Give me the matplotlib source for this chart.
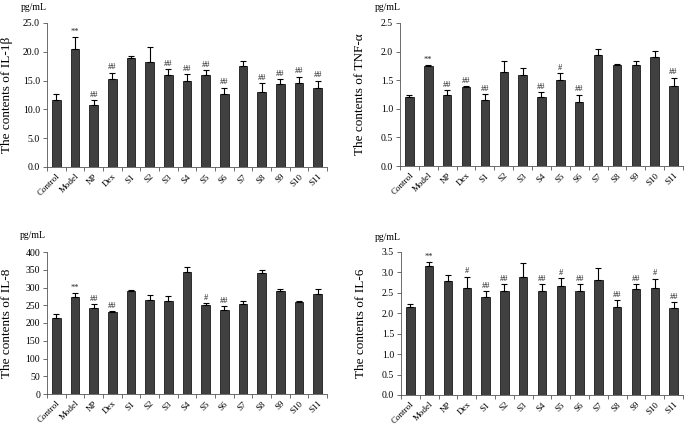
import matplotlib
matplotlib.use("Agg")
import matplotlib.pyplot as plt
import numpy as np

plt.rcParams['font.family'] = ['Liberation Serif', 'DejaVu Serif']

groups = ['Control', 'Model', 'NP', 'Dex', 'S1', 'S2', 'S3', 'S4', 'S5',
          'S6', 'S7', 'S8', 'S9', 'S10', 'S11']

il1b = [11.7, 20.4, 10.7, 15.3, 18.9, 18.2, 15.9, 14.9, 16.0, 12.7, 17.5, 13.1, 14.4, 14.5, 13.7]
il1b_err = [0.9, 2.1, 0.9, 1.1, 0.4, 2.6, 1.1, 1.3, 0.9, 1.1, 0.9, 1.5, 0.9, 1.2, 1.3]
il1b_sig = ['', '**', '##', '##', '', '', '##', '##', '##', '##', '', '##', '##', '##', '##']

tnf = [1.21, 1.75, 1.235, 1.376, 1.15, 1.645, 1.59, 1.21, 1.505, 1.12, 1.94, 1.77, 1.77, 1.90, 1.405]
tnf_err = [0.03, 0.02, 0.09, 0.025, 0.11, 0.19, 0.12, 0.08, 0.12, 0.13, 0.11, 0.01, 0.07, 0.11, 0.14]
tnf_sig = ['', '**', '##', '##', '##', '', '', '##', '#', '##', '', '', '', '', '##']

il8 = [215, 272, 241, 230, 290, 266, 262, 343, 251, 236, 253, 342, 289, 260, 281]
il8_err = [9, 13, 12, 4, 3, 13, 15, 14, 4, 11, 8, 8, 8, 1, 14]
il8_sig = ['', '**', '##', '##', '', '', '', '', '#', '##', '', '', '', '', '']

il6 = [2.15, 3.165, 2.78, 2.63, 2.39, 2.545, 2.90, 2.55, 2.67, 2.55, 2.81, 2.16, 2.59, 2.63, 2.13]
il6_err = [0.07, 0.10, 0.16, 0.27, 0.15, 0.18, 0.34, 0.16, 0.19, 0.16, 0.30, 0.16, 0.13, 0.22, 0.14]
il6_sig = ['', '**', '', '#', '##', '##', '', '##', '#', '##', '', '##', '##', '#', '##']

W, H = 685, 426
fig = plt.figure(figsize=(W / 100, H / 100), dpi=100)


def panel(rect, vals, errs, sigs, ymax, ystep, fmt, ylabel, unit_xy):
    l, t, r, b = rect
    ax = fig.add_axes([l / W, 1 - b / H, (r - l) / W, (b - t) / H])
    x = np.arange(len(groups))
    ax.bar(x, vals, width=0.45, color='#404040', edgecolor='#1a1a1a', linewidth=0.6, zorder=2)
    ax.errorbar(x, vals, yerr=[np.zeros(len(vals)), errs], fmt='none', ecolor='black',
                elinewidth=0.8, capsize=2, capthick=0.8, zorder=3)
    off = ymax * 0.008
    for xi, v, e, s in zip(x, vals, errs, sigs):
        if s:
            ax.text(xi, v + e + off, s, ha='center', va='bottom', fontsize=6, color='#222222')
    ax.set_xlim(-0.5, len(groups) - 0.5)
    ax.set_ylim(0, ymax)
    yt = np.arange(0, ymax + ystep / 2, ystep)
    ax.set_yticks(yt)
    ax.set_yticklabels([fmt.format(v) for v in yt], fontsize=7)
    ax.set_xticks(x)
    ax.set_xticklabels(groups, rotation=45, ha='right', rotation_mode='anchor', fontsize=6.5)
    ax.set_xticks(np.arange(-0.5, len(groups)), minor=True)
    ax.tick_params(axis='x', which='major', length=0, pad=4)
    ax.tick_params(axis='x', which='minor', length=3, width=0.6, color='#555555')
    ax.tick_params(axis='y', length=3, width=0.6, color='#555555', pad=2)
    for sp in ['top', 'right']:
        ax.spines[sp].set_visible(False)
    for sp in ['left', 'bottom']:
        ax.spines[sp].set_color('#555555')
        ax.spines[sp].set_linewidth(0.6)
    ax.set_ylabel(ylabel, fontsize=9.5)
    ax.yaxis.set_label_coords(-0.12, 0.5)
    fig.text(unit_xy[0] / W, 1 - unit_xy[1] / H, 'pg/mL', fontsize=7, ha='left', va='center')
    return ax


panel((47, 23, 327, 167), il1b, il1b_err, il1b_sig, 25, 5, '{:.1f}',
      'The contents of IL-1β', (21, 8))
panel((400, 23, 683, 166), tnf, tnf_err, tnf_sig, 2.5, 0.5, '{:.1f}',
      'The contents of TNF-α', (375, 8))
panel((47, 252, 327, 394), il8, il8_err, il8_sig, 400, 50, '{:.0f}',
      'The contents of IL-8', (20, 236))
panel((401, 252, 683, 395), il6, il6_err, il6_sig, 3.5, 0.5, '{:.1f}',
      'The contents of IL-6', (375, 237))

fig.savefig('out.png', dpi=100)
